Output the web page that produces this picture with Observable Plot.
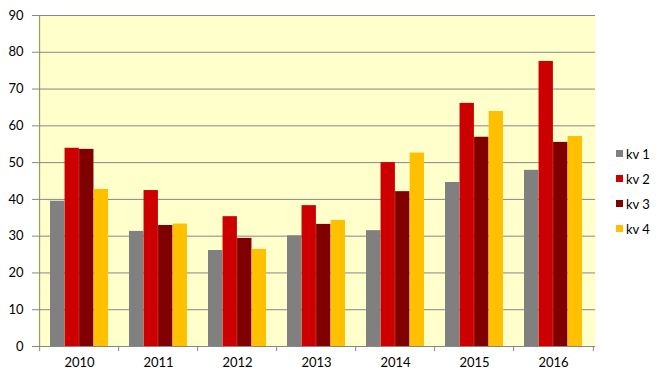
<!DOCTYPE html>
<html>
<head>
<meta charset="utf-8">
<script src="https://cdn.jsdelivr.net/npm/d3@7"></script>
<script src="https://cdn.jsdelivr.net/npm/@observablehq/plot@0.6"></script>
<style>
  html, body { margin: 0; padding: 0; background: #fff; }
  #wrap { position: relative; width: 665px; height: 382px; font-family: Lato, "Open Sans", sans-serif; }
  #chart { position: absolute; left: 0; top: 0; }
  #legend { position: absolute; left: 616px; top: 141px; font-size: 13px; color: #000; }
  .item { height: 25px; display: flex; align-items: center; }
  .sw { width: 7px; height: 7px; margin-right: 3px; }
</style>
</head>
<body>
<div id="wrap"><div id="chart"></div><div id="legend"></div></div>
<script>
const years = ["2010", "2011", "2012", "2013", "2014", "2015", "2016"];
const quarters = ["kv 1", "kv 2", "kv 3", "kv 4"];
const colors = ["#808080", "#CC0000", "#800000", "#FFC000"];
const kv1 = [39.5, 31.3, 26.1, 30.1, 31.5, 44.6, 47.9];
const kv2 = [53.9, 42.4, 35.3, 38.3, 50.0, 66.1, 77.5];
const kv3 = [53.6, 32.9, 29.4, 33.2, 42.1, 56.9, 55.5];
const kv4 = [42.7, 33.3, 26.4, 34.3, 52.6, 63.9, 57.1];
const yTicks = [0, 10, 20, 30, 40, 50, 60, 70, 80, 90];

const series = [kv1, kv2, kv3, kv4];
const data = [];
series.forEach((vals, qi) => vals.forEach((v, yi) => data.push({year: years[yi], q: quarters[qi], qi, value: v})));

const W = 605, H = 382, ml = 37, mr = 10, mt = 15, mb = 36;
const padIn = 0.27;
const step = (W - ml - mr) / years.length;
const bw = step * (1 - padIn);
const w = bw / 4;
const grid = "#868686";

const bars = quarters.map((q, i) => Plot.barY(data.filter(d => d.qi === i), {
  x: "year", y: "value", fill: colors[i],
  insetLeft: i * w, insetRight: (3 - i) * w
}));

const plot = Plot.plot({
  width: W, height: H,
  marginLeft: ml, marginRight: mr, marginTop: mt, marginBottom: mb,
  style: {fontFamily: "Lato, 'Open Sans', sans-serif", fontSize: "13px", color: "#000", background: "transparent"},
  x: {type: "band", domain: years, paddingInner: padIn, paddingOuter: padIn / 2, axis: null},
  y: {domain: [0, 90], axis: null},
  marks: [
    Plot.frame({fill: "#FFFFCC", stroke: null}),
    Plot.ruleY(yTicks, {stroke: grid, strokeWidth: 1}),
    ...bars,
    Plot.axisY(yTicks, {tickSize: 5, tickPadding: 9, stroke: grid, fill: "#000", label: null}),
    Plot.ruleX([years[0]], {y1: 0, y2: 90, dx: -step / 2, stroke: grid}),
    Plot.ruleX(years, {y1: 0, y2: -1.4, dx: -step / 2, stroke: grid}),
    Plot.ruleX([years[years.length - 1]], {y1: 0, y2: -1.4, dx: step / 2, stroke: grid}),
    Plot.axisX(years, {tickSize: 0, tickPadding: 11, fill: "#000", label: null})
  ]
});
document.getElementById("chart").appendChild(plot);

const legend = document.getElementById("legend");
quarters.forEach((q, i) => {
  const it = document.createElement("div");
  it.className = "item";
  const sw = document.createElement("span");
  sw.className = "sw";
  sw.style.background = colors[i];
  const t = document.createElement("span");
  t.textContent = q;
  it.appendChild(sw); it.appendChild(t);
  legend.appendChild(it);
});
</script>
</body>
</html>
